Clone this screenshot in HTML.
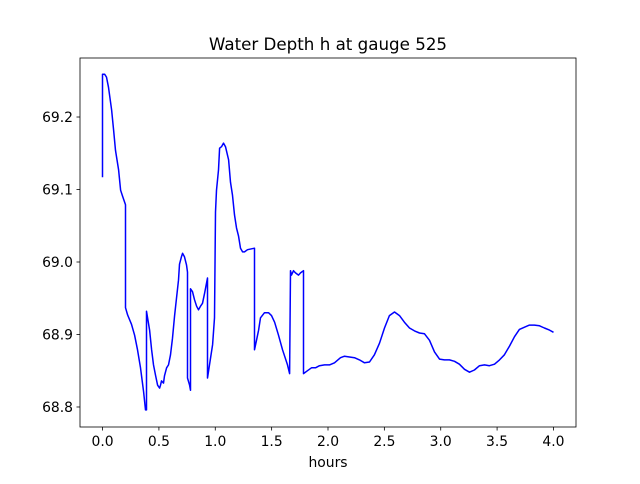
<!DOCTYPE html>
<html><head><meta charset="utf-8"><style>
body{margin:0;background:#fff;font-family:"DejaVu Sans","Liberation Sans",sans-serif;}
svg text{font-family:"DejaVu Sans","Liberation Sans",sans-serif;}
</style></head><body>
<svg id="chart" width="640" height="480" xmlns="http://www.w3.org/2000/svg"></svg>
<script>
const xs=[0,0,0.018,0.035,0.053,0.080,0.098,0.115,0.142,0.160,0.177,0.204,0.204,0.222,0.257,0.284,0.310,0.337,0.364,0.381,0.390,0.390,0.417,0.435,0.452,0.470,0.488,0.506,0.514,0.523,0.541,0.550,0.568,0.585,0.603,0.621,0.639,0.656,0.674,0.683,0.701,0.710,0.727,0.745,0.754,0.754,0.772,0.780,0.780,0.798,0.816,0.834,0.851,0.869,0.887,0.905,0.931,0.931,0.949,0.976,0.993,1.002,1.011,1.029,1.038,1.055,1.073,1.091,1.118,1.135,1.153,1.171,1.188,1.206,1.224,1.242,1.259,1.286,1.348,1.348,1.366,1.384,1.401,1.437,1.472,1.499,1.526,1.561,1.596,1.641,1.659,1.667,1.676,1.694,1.712,1.738,1.756,1.783,1.783,1.818,1.854,1.889,1.925,1.969,2.013,2.058,2.111,2.146,2.191,2.235,2.279,2.324,2.368,2.412,2.457,2.501,2.545,2.590,2.634,2.678,2.723,2.767,2.812,2.856,2.900,2.945,2.989,3.033,3.078,3.122,3.166,3.211,3.255,3.299,3.344,3.388,3.432,3.477,3.521,3.565,3.610,3.654,3.698,3.743,3.787,3.831,3.876,3.920,3.965,4.0];
const hs=[69.117,69.259,69.259,69.255,69.241,69.210,69.182,69.154,69.127,69.099,69.091,69.079,68.937,68.927,68.914,68.899,68.879,68.854,68.821,68.796,68.796,68.932,68.906,68.879,68.858,68.844,68.830,68.826,68.830,68.836,68.833,68.843,68.854,68.858,68.872,68.895,68.926,68.950,68.975,68.997,69.008,69.012,69.007,68.996,68.986,68.840,68.830,68.823,68.963,68.959,68.948,68.939,68.934,68.939,68.943,68.957,68.978,68.840,68.858,68.886,68.923,69.069,69.099,69.127,69.157,69.159,69.164,69.159,69.141,69.110,69.092,69.065,69.047,69.036,69.019,69.014,69.014,69.017,69.019,68.879,68.892,68.906,68.923,68.930,68.930,68.926,68.917,68.899,68.879,68.858,68.846,68.988,68.982,68.988,68.985,68.982,68.985,68.988,68.846,68.850,68.854,68.854,68.857,68.858,68.858,68.861,68.868,68.870,68.869,68.868,68.865,68.861,68.862,68.872,68.888,68.909,68.926,68.931,68.926,68.917,68.909,68.905,68.902,68.901,68.892,68.876,68.866,68.865,68.865,68.863,68.859,68.852,68.848,68.851,68.857,68.858,68.857,68.859,68.865,68.872,68.884,68.897,68.907,68.910,68.913,68.913,68.912,68.909,68.906,68.903];
const xTicks=[0.0,0.5,1.0,1.5,2.0,2.5,3.0,3.5,4.0];
const yTicks=[68.8,68.9,69.0,69.1,69.2];
const NS="http://www.w3.org/2000/svg";
const svg=document.getElementById('chart');
const L=80,R=576,T=58,B=427,x0=-0.2,x1=4.2,y0=68.7724,y1=69.2814;
const X=v=>L+(v-x0)/(x1-x0)*(R-L);
const Y=v=>B-(v-y0)/(y1-y0)*(B-T);
function mk(t,a){const e=document.createElementNS(NS,t);for(const k in a)e.setAttribute(k,a[k]);svg.appendChild(e);return e;}
let d=xs.map((x,i)=>(i?'L':'M')+X(x).toFixed(1)+','+Y(hs[i]).toFixed(1)).join('');
const line=mk('path',{d:d,fill:'none',stroke:'#0000ff','stroke-width':1.5,'stroke-linejoin':'round'});


const frame=mk('rect',{x:L,y:T,width:R-L,height:B-T,fill:'none',stroke:'#000','stroke-width':0.8});


xTicks.forEach(v=>{
  mk('line',{x1:X(v),x2:X(v),y1:B,y2:B+3.5,stroke:'#000','stroke-width':0.8});
  const t=mk('text',{x:X(v),y:B+19,'text-anchor':'middle','font-size':'13.9px'});
  t.textContent=v.toFixed(1);
  
  
});
yTicks.forEach(v=>{
  mk('line',{x1:L-3.5,x2:L,y1:Y(v),y2:Y(v),stroke:'#000','stroke-width':0.8});
  const t=mk('text',{x:L-7,y:Y(v)+5,'text-anchor':'end','font-size':'13.9px'});
  t.textContent=v.toFixed(1);
  
  
});
const xt=mk('text',{x:(L+R)/2,y:467,'text-anchor':'middle','font-size':'13.9px'});
xt.textContent='hours';


const ti=mk('text',{x:(L+R)/2,y:50,'text-anchor':'middle','font-size':'16.7px'});
ti.textContent='Water Depth h at gauge 525';


</script>
</body></html>
